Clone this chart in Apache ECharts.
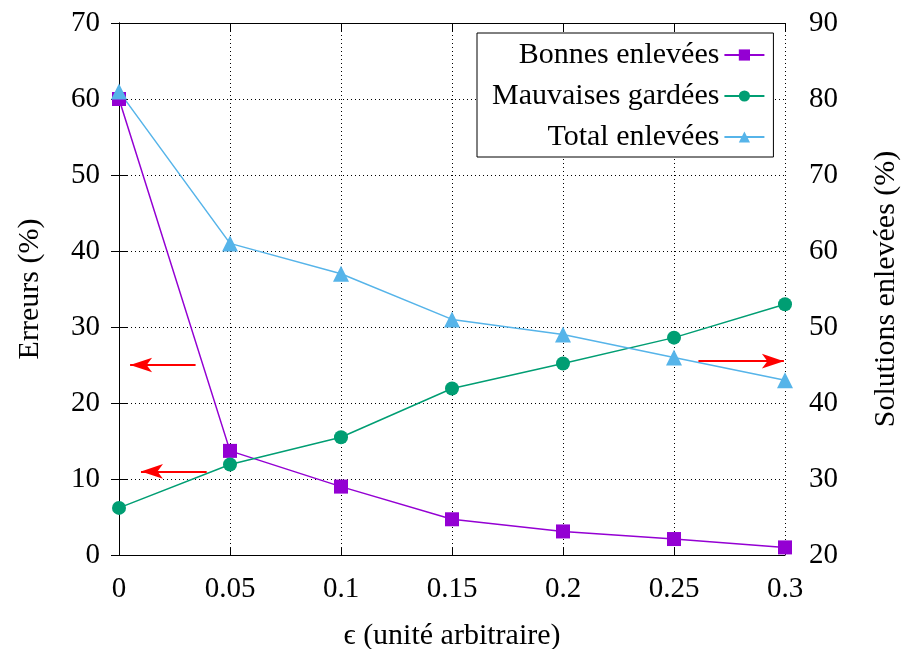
<!DOCTYPE html>
<html>
<head>
<meta charset="utf-8">
<script src="https://cdn.jsdelivr.net/npm/echarts@6/dist/echarts.min.js"></script>
<style>html,body{margin:0;padding:0;background:#fff}#c{width:901px;height:649px}</style>
</head>
<body>
<div id="c"></div>
<script>
var epsilon = [0, 0.05, 0.1, 0.15, 0.2, 0.25, 0.3];
var bonnesEnlevees = [60, 13.7, 9.0, 4.7, 3.1, 2.1, 1.0];
var mauvaisesGardees = [6.2, 11.9, 15.5, 21.9, 25.2, 28.6, 33.0];
var totalEnlevees = [81, 61, 57, 51, 49, 46, 43];
var leftArrows = [[[0.0345, 25], [0.005, 25]], [[0.0395, 11], [0.0099, 11]]];
var rightArrows = [[[0.261, 45.5], [0.2995, 45.5]]];

var FONT = 'Liberation Serif';
function pairs(a){ return a.map(function(v,i){ return [epsilon[i], v]; }); }
function arrows(list){ return list.map(function(p){ return [{coord:p[0]},{coord:p[1]}]; }); }

var chart = echarts.init(document.getElementById('c'));
var tickStyle = {show:true, inside:true, length:8, lineStyle:{color:'#000', width:1}};
var gridLine = {show:true, lineStyle:{type:[1,3], color:'#000', width:1}};
chart.setOption({
  animation:false,
  backgroundColor:'#fff',
  textStyle:{fontFamily:FONT},
  grid:{left:119, right:116, top:23, bottom:94, containLabel:false, outerBoundsMode:'none'},
  legend:{
    left:477, top:33, orient:'vertical', align:'right',
    backgroundColor:'#fff', borderColor:'#000', borderWidth:1, borderRadius:0,
    padding:[7,8,5,15], itemGap:11, itemWidth:40, itemHeight:14,
    textStyle:{fontFamily:FONT, fontSize:30, color:'#000'},
    data:['Bonnes enlevées','Mauvaises gardées','Total enlevées']
  },
  xAxis:[{
    type:'value', min:0, max:0.3, interval:0.05,
    name:'ϵ (unité arbitraire)', nameLocation:'middle', nameGap:66,
    nameTextStyle:{fontFamily:FONT, fontSize:30, color:'#000'},
    axisLine:{show:true, lineStyle:{color:'#000', width:1}},
    axisTick:tickStyle,
    axisLabel:{fontFamily:FONT, fontSize:29, color:'#000', margin:20,
      formatter:function(v){ return String(+v.toFixed(2)); }},
    splitLine:gridLine
  },{
    type:'value', min:0, max:0.3, interval:0.05, position:'top',
    axisLine:{show:true, lineStyle:{color:'#000', width:1}},
    axisTick:tickStyle, axisLabel:{show:false}, splitLine:{show:false}
  }],
  yAxis:[{
    type:'value', min:0, max:70, interval:10,
    name:'Erreurs (%)', nameLocation:'middle', nameGap:74, nameRotate:90,
    nameTextStyle:{fontFamily:FONT, fontSize:30, color:'#000'},
    axisLine:{show:true, lineStyle:{color:'#000', width:1}},
    axisTick:tickStyle,
    axisLabel:{fontFamily:FONT, fontSize:29, color:'#000', margin:19},
    splitLine:gridLine
  },{
    type:'value', min:20, max:90, interval:10, position:'right',
    name:'Solutions enlevées (%)', nameLocation:'middle', nameGap:86, nameRotate:90,
    nameTextStyle:{fontFamily:FONT, fontSize:30, color:'#000'},
    axisLine:{show:true, lineStyle:{color:'#000', width:1}},
    axisTick:tickStyle,
    axisLabel:{fontFamily:FONT, fontSize:29, color:'#000', margin:24},
    splitLine:{show:false}
  }],
  series:[{
    name:'Bonnes enlevées', type:'line', yAxisIndex:0, data:pairs(bonnesEnlevees),
    symbol:'rect', symbolSize:14, showAllSymbol:true,
    itemStyle:{color:'#9400D3'}, lineStyle:{color:'#9400D3', width:1.5},
    markLine:{silent:true, symbol:['none','arrow'], symbolSize:[11,22],
      label:{show:false}, lineStyle:{color:'#FF0000', width:2, type:'solid'},
      data:arrows(leftArrows)}
  },{
    name:'Mauvaises gardées', type:'line', yAxisIndex:0, data:pairs(mauvaisesGardees),
    symbol:'circle', symbolSize:14,
    itemStyle:{color:'#009E73'}, lineStyle:{color:'#009E73', width:1.5}
  },{
    name:'Total enlevées', type:'line', yAxisIndex:1, data:pairs(totalEnlevees),
    symbol:'triangle', symbolSize:16,
    itemStyle:{color:'#56B4E9'}, lineStyle:{color:'#56B4E9', width:1.5},
    markLine:{silent:true, symbol:['none','arrow'], symbolSize:[11,22],
      label:{show:false}, lineStyle:{color:'#FF0000', width:2, type:'solid'},
      data:arrows(rightArrows)}
  }]
});
</script>
</body>
</html>
